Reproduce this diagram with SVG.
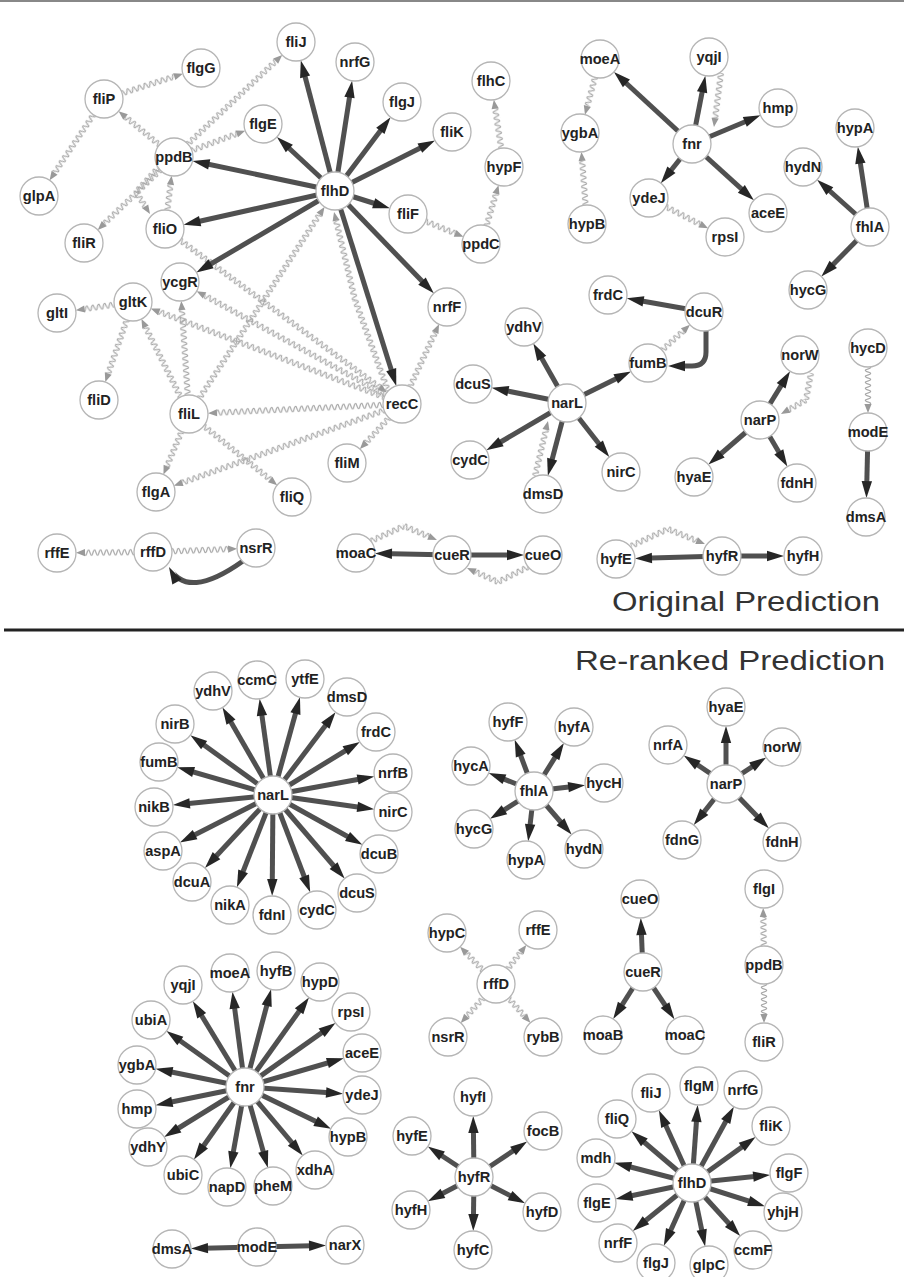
<svg xmlns="http://www.w3.org/2000/svg" xmlns:xlink="http://www.w3.org/1999/xlink" width="904" height="1277" viewBox="0 0 904 1277">
<style>
.n circle{fill:#fff;stroke:#b5b5b5;stroke-width:1.3}
.n text{font-family:"Liberation Sans",Arial,sans-serif;font-weight:bold;font-size:14.6px;fill:#222;text-anchor:middle}
.e line,.e path{stroke:#505050;stroke-width:5;fill:none;marker-end:url(#ah)}
.w rect{fill:url(#wv)}
.title{font-family:"Liberation Sans",Arial,sans-serif;font-size:27px;fill:#333}
</style>
<defs>
<pattern id="wv" patternUnits="userSpaceOnUse" x="0" y="-4" width="6" height="8">
<path d="M-3,4 Q-1.5,9.4 0,4 T3,4 T6,4 T9,4" fill="none" stroke="#a6a6a6" stroke-width="1.2"/>
</pattern>
<polygon id="wa" points="-9,-3.6 0,0 -9,3.6" fill="#999"/>
<marker id="ah" viewBox="-40 -8 44 16" refX="0" refY="0" markerWidth="44" markerHeight="16" markerUnits="userSpaceOnUse" orient="auto">
<rect x="-29" y="-3.2" width="11" height="6.4" fill="#fff"/>
<path d="M-36,-5.2 L-19,0 L-36,5.2 z" fill="#262626"/>
</marker>
<marker id="ah0" viewBox="-20 -8 24 16" refX="0" refY="0" markerWidth="24" markerHeight="16" markerUnits="userSpaceOnUse" orient="auto">
<rect x="-10" y="-3.2" width="11" height="6.4" fill="#fff"/>
<path d="M-17,-5.2 L0,0 L-17,5.2 z" fill="#262626"/>
</marker>
</defs>
<rect width="904" height="1277" fill="#fff"/>
<line x1="0" y1="1" x2="904" y2="1" stroke="#888" stroke-width="2"/>
<line x1="4" y1="630" x2="904" y2="630" stroke="#222" stroke-width="3"/>
<text class="title" x="612" y="611" textLength="268" lengthAdjust="spacingAndGlyphs">Original Prediction</text>
<text class="title" x="575" y="670" textLength="310" lengthAdjust="spacingAndGlyphs">Re-ranked Prediction</text>

<g id="connectors">
<g class="w">
<g transform="translate(104,99) rotate(-17.7)"><rect x="19" y="-4" width="54.8" height="8"/><use href="#wa" x="82.8"/></g>
<g transform="translate(104,99) rotate(123.8)"><rect x="19" y="-4" width="69.8" height="8"/><use href="#wa" x="97.8"/></g>
<g transform="translate(174,157) rotate(-140.4)"><rect x="19" y="-4" width="43.9" height="8"/><use href="#wa" x="71.9"/></g>
<g transform="translate(174,157) rotate(-43.3)"><rect x="19" y="-4" width="120.7" height="8"/><use href="#wa" x="148.7"/></g>
<g transform="translate(174,157) rotate(-20.3)"><rect x="19" y="-4" width="47.9" height="8"/><use href="#wa" x="75.9"/></g>
<g transform="translate(174,157) rotate(136.3)"><rect x="19" y="-4" width="77.5" height="8"/><use href="#wa" x="105.5"/></g>
<g transform="translate(158,168) rotate(132.5)"><rect x="0" y="-4" width="33" height="8"/></g>
<g transform="translate(136,192) rotate(57.5)"><rect x="0" y="-4" width="17.1" height="8"/><use href="#wa" x="26.1"/></g>
<g transform="translate(165,229) rotate(-82.9)"><rect x="19" y="-4" width="25.6" height="8"/><use href="#wa" x="53.6"/></g>
<g transform="translate(165,229) rotate(36.4)"><rect x="19" y="-4" width="247.6" height="8"/><use href="#wa" x="275.6"/></g>
<g transform="translate(189,414) rotate(-116.6)"><rect x="19" y="-4" width="78.2" height="8"/><use href="#wa" x="106.2"/></g>
<g transform="translate(189,414) rotate(-93.9)"><rect x="19" y="-4" width="85.3" height="8"/><use href="#wa" x="113.3"/></g>
<g transform="translate(189,414) rotate(-56.8)"><rect x="19" y="-4" width="219.5" height="8"/><use href="#wa" x="247.5"/></g>
<g transform="translate(189,414) rotate(112.9)"><rect x="19" y="-4" width="37.7" height="8"/><use href="#wa" x="65.7"/></g>
<g transform="translate(189,414) rotate(38.9)"><rect x="19" y="-4" width="85.3" height="8"/><use href="#wa" x="113.3"/></g>
<g transform="translate(402,404) rotate(177.3)"><rect x="19" y="-4" width="166.2" height="8"/><use href="#wa" x="194.2"/></g>
<g transform="translate(402,404) rotate(160.3)"><rect x="19" y="-4" width="214.3" height="8"/><use href="#wa" x="242.3"/></g>
<g transform="translate(402,404) rotate(133)"><rect x="19" y="-4" width="33.7" height="8"/><use href="#wa" x="61.7"/></g>
<g transform="translate(402,404) rotate(-65.1)"><rect x="19" y="-4" width="59.9" height="8"/><use href="#wa" x="87.9"/></g>
<g transform="translate(402,404) rotate(-159.2)"><rect x="19" y="-4" width="240.7" height="8"/><use href="#wa" x="268.7"/></g>
<g transform="translate(402,404) rotate(-151.2)"><rect x="19" y="-4" width="206.3" height="8"/><use href="#wa" x="234.3"/></g>
<g transform="translate(388,391) rotate(-109.9)"><rect x="0" y="-4" width="96.8" height="8"/></g>
<g transform="translate(355,300) rotate(-103.4)"><rect x="0" y="-4" width="81.5" height="8"/><use href="#wa" x="90.5"/></g>
<g transform="translate(408,214) rotate(22.3)"><rect x="19" y="-4" width="31.9" height="8"/><use href="#wa" x="59.9"/></g>
<g transform="translate(481,244) rotate(-73.4)"><rect x="19" y="-4" width="33.4" height="8"/><use href="#wa" x="61.4"/></g>
<g transform="translate(504,167) rotate(-98.6)"><rect x="19" y="-4" width="40" height="8"/><use href="#wa" x="68"/></g>
<g transform="translate(133,302) rotate(171.8)"><rect x="19" y="-4" width="29.8" height="8"/><use href="#wa" x="57.8"/></g>
<g transform="translate(133,302) rotate(109.1)"><rect x="19" y="-4" width="56.7" height="8"/><use href="#wa" x="84.7"/></g>
<g transform="translate(600,59) rotate(105.1)"><rect x="19" y="-4" width="29.7" height="8"/><use href="#wa" x="57.7"/></g>
<g transform="translate(587,224) rotate(-94.4)"><rect x="19" y="-4" width="44.3" height="8"/><use href="#wa" x="72.3"/></g>
<g transform="translate(721,73) rotate(97.4)"><rect x="0" y="-4" width="45.5" height="8"/><use href="#wa" x="54.5"/></g>
<g transform="translate(649,198) rotate(27.2)"><rect x="19" y="-4" width="38.4" height="8"/><use href="#wa" x="66.4"/></g>
<g transform="translate(648,363) rotate(-42.3)"><rect x="19" y="-4" width="28.7" height="8"/><use href="#wa" x="56.7"/></g>
<g transform="translate(535,476) rotate(-76.7)"><rect x="0" y="-4" width="47.5" height="8"/><use href="#wa" x="56.5"/></g>
<g transform="translate(811,373) rotate(100.5)"><rect x="0" y="-4" width="27.5" height="8"/></g>
<g transform="translate(806,400) rotate(150.8)"><rect x="0" y="-4" width="19.7" height="8"/><use href="#wa" x="28.7"/></g>
<g transform="translate(868,348) rotate(90)"><rect x="19" y="-4" width="37" height="8"/><use href="#wa" x="65"/></g>
<g transform="translate(371,541) rotate(-24.4)"><rect x="0" y="-4" width="36.2" height="8"/></g>
<g transform="translate(404,526) rotate(23)"><rect x="0" y="-4" width="26.8" height="8"/><use href="#wa" x="35.8"/></g>
<g transform="translate(528,567) rotate(153.4)"><rect x="0" y="-4" width="33.5" height="8"/></g>
<g transform="translate(498,582) rotate(-155.7)"><rect x="0" y="-4" width="25" height="8"/><use href="#wa" x="34"/></g>
<g transform="translate(631,546) rotate(-24.7)"><rect x="0" y="-4" width="40.7" height="8"/></g>
<g transform="translate(668,529) rotate(22.1)"><rect x="0" y="-4" width="30.9" height="8"/><use href="#wa" x="39.9"/></g>
<g transform="translate(153,552) rotate(179.4)"><rect x="19" y="-4" width="49" height="8"/><use href="#wa" x="77"/></g>
<g transform="translate(153,552) rotate(-2.2)"><rect x="19" y="-4" width="56.1" height="8"/><use href="#wa" x="84.1"/></g>
<g transform="translate(496,984) rotate(-133.9)"><rect x="19" y="-4" width="23.7" height="8"/><use href="#wa" x="51.7"/></g>
<g transform="translate(496,984) rotate(-52.1)"><rect x="19" y="-4" width="21.4" height="8"/><use href="#wa" x="49.4"/></g>
<g transform="translate(496,984) rotate(132.2)"><rect x="19" y="-4" width="24.5" height="8"/><use href="#wa" x="52.5"/></g>
<g transform="translate(496,984) rotate(48.4)"><rect x="19" y="-4" width="23.8" height="8"/><use href="#wa" x="51.8"/></g>
<g transform="translate(764,965) rotate(-90.8)"><rect x="19" y="-4" width="29" height="8"/><use href="#wa" x="57"/></g>
<g transform="translate(764,965) rotate(90)"><rect x="19" y="-4" width="30" height="8"/><use href="#wa" x="58"/></g>
</g>
<g class="e">
<line x1="335" y1="191" x2="296" y2="42"/>
<line x1="335" y1="191" x2="355" y2="62"/>
<line x1="335" y1="191" x2="402" y2="102"/>
<line x1="335" y1="191" x2="452" y2="132"/>
<line x1="335" y1="191" x2="263" y2="124"/>
<line x1="335" y1="191" x2="174" y2="157"/>
<line x1="335" y1="191" x2="165" y2="229"/>
<line x1="335" y1="191" x2="180" y2="282"/>
<line x1="335" y1="191" x2="408" y2="214"/>
<line x1="335" y1="191" x2="447" y2="307"/>
<line x1="335" y1="191" x2="402" y2="404"/>
<line x1="692" y1="144" x2="600" y2="59"/>
<line x1="692" y1="144" x2="709" y2="57"/>
<line x1="692" y1="144" x2="778" y2="108"/>
<line x1="692" y1="144" x2="649" y2="198"/>
<line x1="692" y1="144" x2="768" y2="213"/>
<line x1="870" y1="227" x2="803" y2="167"/>
<line x1="870" y1="227" x2="855" y2="128"/>
<line x1="870" y1="227" x2="808" y2="290"/>
<line x1="704" y1="312" x2="608" y2="295"/>
<path d="M706,331 L706,352 Q706,366 692,366 L668,366" style="marker-end:url(#ah0)"/>
<line x1="567" y1="403" x2="524" y2="327"/>
<line x1="567" y1="403" x2="473" y2="384"/>
<line x1="567" y1="403" x2="648" y2="363"/>
<line x1="567" y1="403" x2="470" y2="460"/>
<line x1="567" y1="403" x2="543" y2="494"/>
<line x1="567" y1="403" x2="621" y2="472"/>
<line x1="760" y1="420" x2="800" y2="355"/>
<line x1="760" y1="420" x2="694" y2="477"/>
<line x1="760" y1="420" x2="797" y2="483"/>
<line x1="868" y1="432" x2="866" y2="517"/>
<line x1="452" y1="555" x2="356" y2="553"/>
<line x1="452" y1="555" x2="543" y2="555"/>
<line x1="722" y1="556" x2="616" y2="559"/>
<line x1="722" y1="556" x2="803" y2="556"/>
<path d="M243,561 Q187,601 169,567" style="marker-end:url(#ah0)"/>

<line x1="273" y1="795" x2="213" y2="691"/>
<line x1="273" y1="795" x2="257" y2="680"/>
<line x1="273" y1="795" x2="305" y2="679"/>
<line x1="273" y1="795" x2="347" y2="697"/>
<line x1="273" y1="795" x2="175" y2="724"/>
<line x1="273" y1="795" x2="376" y2="732"/>
<line x1="273" y1="795" x2="159" y2="762"/>
<line x1="273" y1="795" x2="393" y2="773"/>
<line x1="273" y1="795" x2="154" y2="807"/>
<line x1="273" y1="795" x2="393" y2="812"/>
<line x1="273" y1="795" x2="163" y2="851"/>
<line x1="273" y1="795" x2="379" y2="854"/>
<line x1="273" y1="795" x2="192" y2="882"/>
<line x1="273" y1="795" x2="357" y2="893"/>
<line x1="273" y1="795" x2="230" y2="905"/>
<line x1="273" y1="795" x2="272" y2="915"/>
<line x1="273" y1="795" x2="317" y2="910"/>
<line x1="534" y1="791" x2="508" y2="722"/>
<line x1="534" y1="791" x2="574" y2="727"/>
<line x1="534" y1="791" x2="471" y2="766"/>
<line x1="534" y1="791" x2="604" y2="783"/>
<line x1="534" y1="791" x2="474" y2="829"/>
<line x1="534" y1="791" x2="584" y2="849"/>
<line x1="534" y1="791" x2="526" y2="860"/>
<line x1="726" y1="784" x2="726" y2="707"/>
<line x1="726" y1="784" x2="668" y2="745"/>
<line x1="726" y1="784" x2="782" y2="747"/>
<line x1="726" y1="784" x2="682" y2="840"/>
<line x1="726" y1="784" x2="782" y2="842"/>
<line x1="643" y1="972" x2="640" y2="899"/>
<line x1="643" y1="972" x2="603" y2="1035"/>
<line x1="643" y1="972" x2="685" y2="1035"/>
<line x1="245" y1="1087" x2="230" y2="973"/>
<line x1="245" y1="1087" x2="276" y2="971"/>
<line x1="245" y1="1087" x2="183" y2="985"/>
<line x1="245" y1="1087" x2="320" y2="982"/>
<line x1="245" y1="1087" x2="351" y2="1012"/>
<line x1="245" y1="1087" x2="151" y2="1020"/>
<line x1="245" y1="1087" x2="362" y2="1053"/>
<line x1="245" y1="1087" x2="137" y2="1065"/>
<line x1="245" y1="1087" x2="362" y2="1095"/>
<line x1="245" y1="1087" x2="137" y2="1109"/>
<line x1="245" y1="1087" x2="348" y2="1137"/>
<line x1="245" y1="1087" x2="148" y2="1147"/>
<line x1="245" y1="1087" x2="315" y2="1170"/>
<line x1="245" y1="1087" x2="183" y2="1175"/>
<line x1="245" y1="1087" x2="227" y2="1187"/>
<line x1="245" y1="1087" x2="273" y2="1186"/>
<line x1="474" y1="1177" x2="473" y2="1097"/>
<line x1="474" y1="1177" x2="412" y2="1136"/>
<line x1="474" y1="1177" x2="543" y2="1131"/>
<line x1="474" y1="1177" x2="411" y2="1210"/>
<line x1="474" y1="1177" x2="542" y2="1212"/>
<line x1="474" y1="1177" x2="473" y2="1250"/>
<line x1="692" y1="1183" x2="651" y2="1093"/>
<line x1="692" y1="1183" x2="699" y2="1086"/>
<line x1="692" y1="1183" x2="743" y2="1090"/>
<line x1="692" y1="1183" x2="617" y2="1119"/>
<line x1="692" y1="1183" x2="771" y2="1126"/>
<line x1="692" y1="1183" x2="596" y2="1158"/>
<line x1="692" y1="1183" x2="789" y2="1173"/>
<line x1="692" y1="1183" x2="597" y2="1203"/>
<line x1="692" y1="1183" x2="783" y2="1212"/>
<line x1="692" y1="1183" x2="618" y2="1243"/>
<line x1="692" y1="1183" x2="753" y2="1250"/>
<line x1="692" y1="1183" x2="656" y2="1263"/>
<line x1="692" y1="1183" x2="709" y2="1265"/>
<line x1="257" y1="1247" x2="172" y2="1249"/>
<line x1="257" y1="1247" x2="345" y2="1245"/>
</g>
</g>

<g class="n">
<g id="t-flhD"><circle cx="335" cy="191" r="19"/><text x="335" y="196">flhD</text></g>
<g id="t-fliJ"><circle cx="296" cy="42" r="19"/><text x="296" y="47">fliJ</text></g>
<g id="t-nrfG"><circle cx="355" cy="62" r="19"/><text x="355" y="67">nrfG</text></g>
<g id="t-flgG"><circle cx="201" cy="68" r="19"/><text x="201" y="73">flgG</text></g>
<g id="t-fliP"><circle cx="104" cy="99" r="19"/><text x="104" y="104">fliP</text></g>
<g id="t-flgJ"><circle cx="402" cy="102" r="19"/><text x="402" y="107">flgJ</text></g>
<g id="t-fliK"><circle cx="452" cy="132" r="19"/><text x="452" y="137">fliK</text></g>
<g id="t-flgE"><circle cx="263" cy="124" r="19"/><text x="263" y="129">flgE</text></g>
<g id="t-ppdB"><circle cx="174" cy="157" r="19"/><text x="174" y="162">ppdB</text></g>
<g id="t-glpA"><circle cx="39" cy="196" r="19"/><text x="39" y="201">glpA</text></g>
<g id="t-fliF"><circle cx="408" cy="214" r="19"/><text x="408" y="219">fliF</text></g>
<g id="t-fliO"><circle cx="165" cy="229" r="19"/><text x="165" y="234">fliO</text></g>
<g id="t-fliR"><circle cx="84" cy="243" r="19"/><text x="84" y="248">fliR</text></g>
<g id="t-ppdC"><circle cx="481" cy="244" r="19"/><text x="481" y="249">ppdC</text></g>
<g id="t-ycgR"><circle cx="180" cy="282" r="19"/><text x="180" y="287">ycgR</text></g>
<g id="t-flhC"><circle cx="491" cy="81" r="19"/><text x="491" y="86">flhC</text></g>
<g id="t-hypF"><circle cx="504" cy="167" r="19"/><text x="504" y="172">hypF</text></g>
<g id="t-gltI"><circle cx="57" cy="313" r="19"/><text x="57" y="318">gltI</text></g>
<g id="t-gltK"><circle cx="133" cy="302" r="19"/><text x="133" y="307">gltK</text></g>
<g id="t-nrfF"><circle cx="447" cy="307" r="19"/><text x="447" y="312">nrfF</text></g>
<g id="t-fliD"><circle cx="99" cy="400" r="19"/><text x="99" y="405">fliD</text></g>
<g id="t-recC"><circle cx="402" cy="404" r="19"/><text x="402" y="409">recC</text></g>
<g id="t-fliL"><circle cx="189" cy="414" r="19"/><text x="189" y="419">fliL</text></g>
<g id="t-fliM"><circle cx="347" cy="463" r="19"/><text x="347" y="468">fliM</text></g>
<g id="t-flgA"><circle cx="156" cy="492" r="19"/><text x="156" y="497">flgA</text></g>
<g id="t-fliQ"><circle cx="292" cy="497" r="19"/><text x="292" y="502">fliQ</text></g>
<g id="t-rffE"><circle cx="57" cy="553" r="19"/><text x="57" y="558">rffE</text></g>
<g id="t-rffD"><circle cx="153" cy="552" r="19"/><text x="153" y="557">rffD</text></g>
<g id="t-nsrR"><circle cx="256" cy="548" r="19"/><text x="256" y="553">nsrR</text></g>
<g id="t-moaC"><circle cx="356" cy="553" r="19"/><text x="356" y="558">moaC</text></g>
<g id="t-cueR"><circle cx="452" cy="555" r="19"/><text x="452" y="560">cueR</text></g>
<g id="t-cueO"><circle cx="543" cy="555" r="19"/><text x="543" y="560">cueO</text></g>
<g id="t-moeA"><circle cx="600" cy="59" r="19"/><text x="600" y="64">moeA</text></g>
<g id="t-yqjI"><circle cx="709" cy="57" r="19"/><text x="709" y="62">yqjI</text></g>
<g id="t-hmp"><circle cx="778" cy="108" r="19"/><text x="778" y="113">hmp</text></g>
<g id="t-hypA"><circle cx="855" cy="128" r="19"/><text x="855" y="133">hypA</text></g>
<g id="t-ygbA"><circle cx="580" cy="133" r="19"/><text x="580" y="138">ygbA</text></g>
<g id="t-fnr"><circle cx="692" cy="144" r="19"/><text x="692" y="149">fnr</text></g>
<g id="t-hydN"><circle cx="803" cy="167" r="19"/><text x="803" y="172">hydN</text></g>
<g id="t-ydeJ"><circle cx="649" cy="198" r="19"/><text x="649" y="203">ydeJ</text></g>
<g id="t-aceE"><circle cx="768" cy="213" r="19"/><text x="768" y="218">aceE</text></g>
<g id="t-hypB"><circle cx="587" cy="224" r="19"/><text x="587" y="229">hypB</text></g>
<g id="t-fhlA"><circle cx="870" cy="227" r="19"/><text x="870" y="232">fhlA</text></g>
<g id="t-rpsI"><circle cx="725" cy="237" r="19"/><text x="725" y="242">rpsI</text></g>
<g id="t-hycG"><circle cx="808" cy="290" r="19"/><text x="808" y="295">hycG</text></g>
<g id="t-frdC"><circle cx="608" cy="295" r="19"/><text x="608" y="300">frdC</text></g>
<g id="t-dcuR"><circle cx="704" cy="312" r="19"/><text x="704" y="317">dcuR</text></g>
<g id="t-ydhV"><circle cx="524" cy="327" r="19"/><text x="524" y="332">ydhV</text></g>
<g id="t-hycD"><circle cx="868" cy="348" r="19"/><text x="868" y="353">hycD</text></g>
<g id="t-norW"><circle cx="800" cy="355" r="19"/><text x="800" y="360">norW</text></g>
<g id="t-fumB"><circle cx="648" cy="363" r="19"/><text x="648" y="368">fumB</text></g>
<g id="t-dcuS"><circle cx="473" cy="384" r="19"/><text x="473" y="389">dcuS</text></g>
<g id="t-narL"><circle cx="567" cy="403" r="19"/><text x="567" y="408">narL</text></g>
<g id="t-narP"><circle cx="760" cy="420" r="19"/><text x="760" y="425">narP</text></g>
<g id="t-modE"><circle cx="868" cy="432" r="19"/><text x="868" y="437">modE</text></g>
<g id="t-cydC"><circle cx="470" cy="460" r="19"/><text x="470" y="465">cydC</text></g>
<g id="t-nirC"><circle cx="621" cy="472" r="19"/><text x="621" y="477">nirC</text></g>
<g id="t-hyaE"><circle cx="694" cy="477" r="19"/><text x="694" y="482">hyaE</text></g>
<g id="t-fdnH"><circle cx="797" cy="483" r="19"/><text x="797" y="488">fdnH</text></g>
<g id="t-dmsD"><circle cx="543" cy="494" r="19"/><text x="543" y="499">dmsD</text></g>
<g id="t-dmsA"><circle cx="866" cy="517" r="19"/><text x="866" y="522">dmsA</text></g>
<g id="t-hyfE"><circle cx="616" cy="559" r="19"/><text x="616" y="564">hyfE</text></g>
<g id="t-hyfR"><circle cx="722" cy="556" r="19"/><text x="722" y="561">hyfR</text></g>
<g id="t-hyfH"><circle cx="803" cy="556" r="19"/><text x="803" y="561">hyfH</text></g>

<g id="b-narL"><circle cx="273" cy="795" r="19"/><text x="273" y="800">narL</text></g>
<g id="b-ydhV"><circle cx="213" cy="691" r="19"/><text x="213" y="696">ydhV</text></g>
<g id="b-ccmC"><circle cx="257" cy="680" r="19"/><text x="257" y="685">ccmC</text></g>
<g id="b-ytfE"><circle cx="305" cy="679" r="19"/><text x="305" y="684">ytfE</text></g>
<g id="b-dmsD"><circle cx="347" cy="697" r="19"/><text x="347" y="702">dmsD</text></g>
<g id="b-nirB"><circle cx="175" cy="724" r="19"/><text x="175" y="729">nirB</text></g>
<g id="b-frdC"><circle cx="376" cy="732" r="19"/><text x="376" y="737">frdC</text></g>
<g id="b-fumB"><circle cx="159" cy="762" r="19"/><text x="159" y="767">fumB</text></g>
<g id="b-nrfB"><circle cx="393" cy="773" r="19"/><text x="393" y="778">nrfB</text></g>
<g id="b-nikB"><circle cx="154" cy="807" r="19"/><text x="154" y="812">nikB</text></g>
<g id="b-nirC"><circle cx="393" cy="812" r="19"/><text x="393" y="817">nirC</text></g>
<g id="b-aspA"><circle cx="163" cy="851" r="19"/><text x="163" y="856">aspA</text></g>
<g id="b-dcuB"><circle cx="379" cy="854" r="19"/><text x="379" y="859">dcuB</text></g>
<g id="b-dcuA"><circle cx="192" cy="882" r="19"/><text x="192" y="887">dcuA</text></g>
<g id="b-dcuS"><circle cx="357" cy="893" r="19"/><text x="357" y="898">dcuS</text></g>
<g id="b-nikA"><circle cx="230" cy="905" r="19"/><text x="230" y="910">nikA</text></g>
<g id="b-fdnI"><circle cx="272" cy="915" r="19"/><text x="272" y="920">fdnI</text></g>
<g id="b-cydC"><circle cx="317" cy="910" r="19"/><text x="317" y="915">cydC</text></g>
<g id="b-fhlA"><circle cx="534" cy="791" r="19"/><text x="534" y="796">fhlA</text></g>
<g id="b-hyfF"><circle cx="508" cy="722" r="19"/><text x="508" y="727">hyfF</text></g>
<g id="b-hyfA"><circle cx="574" cy="727" r="19"/><text x="574" y="732">hyfA</text></g>
<g id="b-hycA"><circle cx="471" cy="766" r="19"/><text x="471" y="771">hycA</text></g>
<g id="b-hycH"><circle cx="604" cy="783" r="19"/><text x="604" y="788">hycH</text></g>
<g id="b-hycG"><circle cx="474" cy="829" r="19"/><text x="474" y="834">hycG</text></g>
<g id="b-hydN"><circle cx="584" cy="849" r="19"/><text x="584" y="854">hydN</text></g>
<g id="b-hypA"><circle cx="526" cy="860" r="19"/><text x="526" y="865">hypA</text></g>
<g id="b-narP"><circle cx="726" cy="784" r="19"/><text x="726" y="789">narP</text></g>
<g id="b-hyaE"><circle cx="726" cy="707" r="19"/><text x="726" y="712">hyaE</text></g>
<g id="b-nrfA"><circle cx="668" cy="745" r="19"/><text x="668" y="750">nrfA</text></g>
<g id="b-norW"><circle cx="782" cy="747" r="19"/><text x="782" y="752">norW</text></g>
<g id="b-fdnG"><circle cx="682" cy="840" r="19"/><text x="682" y="845">fdnG</text></g>
<g id="b-fdnH"><circle cx="782" cy="842" r="19"/><text x="782" y="847">fdnH</text></g>
<g id="b-flgI"><circle cx="764" cy="889" r="19"/><text x="764" y="894">flgI</text></g>
<g id="b-ppdB"><circle cx="764" cy="965" r="19"/><text x="764" y="970">ppdB</text></g>
<g id="b-fliR"><circle cx="764" cy="1042" r="19"/><text x="764" y="1047">fliR</text></g>
<g id="b-cueO"><circle cx="640" cy="899" r="19"/><text x="640" y="904">cueO</text></g>
<g id="b-cueR"><circle cx="643" cy="972" r="19"/><text x="643" y="977">cueR</text></g>
<g id="b-moaB"><circle cx="603" cy="1035" r="19"/><text x="603" y="1040">moaB</text></g>
<g id="b-moaC"><circle cx="685" cy="1035" r="19"/><text x="685" y="1040">moaC</text></g>
<g id="b-hypC"><circle cx="447" cy="933" r="19"/><text x="447" y="938">hypC</text></g>
<g id="b-rffE"><circle cx="538" cy="930" r="19"/><text x="538" y="935">rffE</text></g>
<g id="b-rffD"><circle cx="496" cy="984" r="19"/><text x="496" y="989">rffD</text></g>
<g id="b-nsrR"><circle cx="448" cy="1037" r="19"/><text x="448" y="1042">nsrR</text></g>
<g id="b-rybB"><circle cx="543" cy="1037" r="19"/><text x="543" y="1042">rybB</text></g>
<g id="b-fnr"><circle cx="245" cy="1087" r="19"/><text x="245" y="1092">fnr</text></g>
<g id="b-moeA"><circle cx="230" cy="973" r="19"/><text x="230" y="978">moeA</text></g>
<g id="b-hyfB"><circle cx="276" cy="971" r="19"/><text x="276" y="976">hyfB</text></g>
<g id="b-yqjI"><circle cx="183" cy="985" r="19"/><text x="183" y="990">yqjI</text></g>
<g id="b-hypD"><circle cx="320" cy="982" r="19"/><text x="320" y="987">hypD</text></g>
<g id="b-rpsI"><circle cx="351" cy="1012" r="19"/><text x="351" y="1017">rpsI</text></g>
<g id="b-ubiA"><circle cx="151" cy="1020" r="19"/><text x="151" y="1025">ubiA</text></g>
<g id="b-aceE"><circle cx="362" cy="1053" r="19"/><text x="362" y="1058">aceE</text></g>
<g id="b-ygbA"><circle cx="137" cy="1065" r="19"/><text x="137" y="1070">ygbA</text></g>
<g id="b-ydeJ"><circle cx="362" cy="1095" r="19"/><text x="362" y="1100">ydeJ</text></g>
<g id="b-hmp"><circle cx="137" cy="1109" r="19"/><text x="137" y="1114">hmp</text></g>
<g id="b-hypB"><circle cx="348" cy="1137" r="19"/><text x="348" y="1142">hypB</text></g>
<g id="b-ydhY"><circle cx="148" cy="1147" r="19"/><text x="148" y="1152">ydhY</text></g>
<g id="b-xdhA"><circle cx="315" cy="1170" r="19"/><text x="315" y="1175">xdhA</text></g>
<g id="b-ubiC"><circle cx="183" cy="1175" r="19"/><text x="183" y="1180">ubiC</text></g>
<g id="b-napD"><circle cx="227" cy="1187" r="19"/><text x="227" y="1192">napD</text></g>
<g id="b-pheM"><circle cx="273" cy="1186" r="19"/><text x="273" y="1191">pheM</text></g>
<g id="b-modE"><circle cx="257" cy="1247" r="19"/><text x="257" y="1252">modE</text></g>
<g id="b-dmsA"><circle cx="172" cy="1249" r="19"/><text x="172" y="1254">dmsA</text></g>
<g id="b-narX"><circle cx="345" cy="1245" r="19"/><text x="345" y="1250">narX</text></g>
<g id="b-hyfR"><circle cx="474" cy="1177" r="19"/><text x="474" y="1182">hyfR</text></g>
<g id="b-hyfI"><circle cx="473" cy="1097" r="19"/><text x="473" y="1102">hyfI</text></g>
<g id="b-hyfE"><circle cx="412" cy="1136" r="19"/><text x="412" y="1141">hyfE</text></g>
<g id="b-focB"><circle cx="543" cy="1131" r="19"/><text x="543" y="1136">focB</text></g>
<g id="b-hyfH"><circle cx="411" cy="1210" r="19"/><text x="411" y="1215">hyfH</text></g>
<g id="b-hyfD"><circle cx="542" cy="1212" r="19"/><text x="542" y="1217">hyfD</text></g>
<g id="b-hyfC"><circle cx="473" cy="1250" r="19"/><text x="473" y="1255">hyfC</text></g>
<g id="b-flhD"><circle cx="692" cy="1183" r="19"/><text x="692" y="1188">flhD</text></g>
<g id="b-fliJ"><circle cx="651" cy="1093" r="19"/><text x="651" y="1098">fliJ</text></g>
<g id="b-flgM"><circle cx="699" cy="1086" r="19"/><text x="699" y="1091">flgM</text></g>
<g id="b-nrfG"><circle cx="743" cy="1090" r="19"/><text x="743" y="1095">nrfG</text></g>
<g id="b-fliQ"><circle cx="617" cy="1119" r="19"/><text x="617" y="1124">fliQ</text></g>
<g id="b-fliK"><circle cx="771" cy="1126" r="19"/><text x="771" y="1131">fliK</text></g>
<g id="b-mdh"><circle cx="596" cy="1158" r="19"/><text x="596" y="1163">mdh</text></g>
<g id="b-flgF"><circle cx="789" cy="1173" r="19"/><text x="789" y="1178">flgF</text></g>
<g id="b-flgE"><circle cx="597" cy="1203" r="19"/><text x="597" y="1208">flgE</text></g>
<g id="b-yhjH"><circle cx="783" cy="1212" r="19"/><text x="783" y="1217">yhjH</text></g>
<g id="b-nrfF"><circle cx="618" cy="1243" r="19"/><text x="618" y="1248">nrfF</text></g>
<g id="b-ccmF"><circle cx="753" cy="1250" r="19"/><text x="753" y="1255">ccmF</text></g>
<g id="b-flgJ"><circle cx="656" cy="1263" r="19"/><text x="656" y="1268">flgJ</text></g>
<g id="b-glpC"><circle cx="709" cy="1265" r="19"/><text x="709" y="1270">glpC</text></g>
</g>
</svg>
